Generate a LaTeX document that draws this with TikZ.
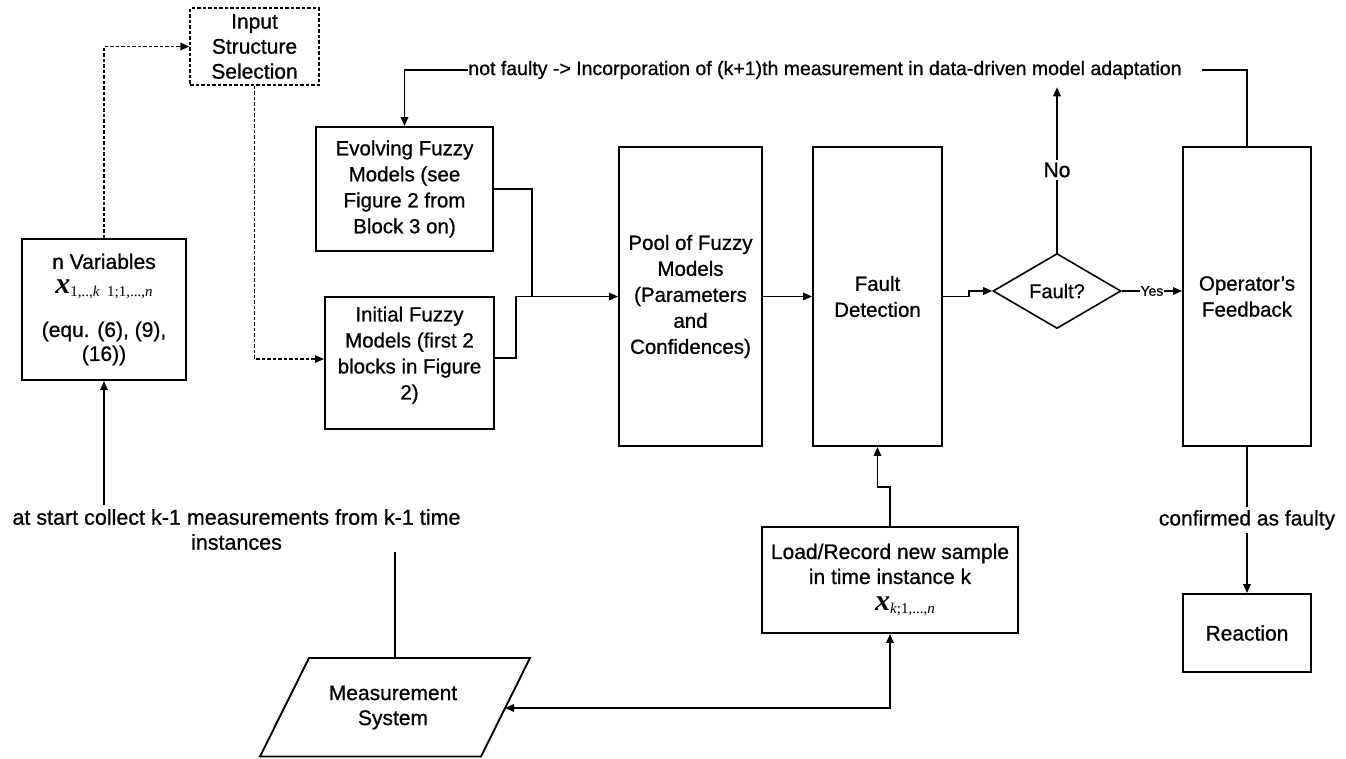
\documentclass[tikz,border=0pt]{standalone}
\usepackage{fontspec}
\setmainfont{Liberation Sans}[FakeBold=0.8]
\newfontfamily\tnr{Liberation Serif}
\usetikzlibrary{arrows.meta,shapes.geometric,calc}
\newcommand{\fsz}[2]{\fontsize{#1}{#2}\selectfont}
\newcommand{\bigx}{{\tnr\fsz{30}{30}\bfseries\itshape x}}
\newcommand{\subx}[1]{\raisebox{-3pt}{\tnr\fsz{15}{15}#1}}
\newcommand{\apos}{{\char"27}}
\begin{document}
\begin{tikzpicture}[x=1pt,y=-1pt,
  box/.style={draw,line width=1.9pt,inner sep=0pt,align=center,font=\fsz{20.5}{26}},
  conn/.style={line width=1.6pt},
  dconn/.style={line width=1.3pt,dash pattern=on 3.5pt off 2pt},
  tip/.style={-{Triangle[length=9pt,width=7.5pt]}},
  lbl/.style={inner sep=2pt,align=center}
]
\useasboundingbox[fill=white] (0,0) rectangle (1346,758);

% boxes
\node[box,line width=1.3pt,dash pattern=on 3.5pt off 2pt,minimum width=129pt,minimum height=77pt,font=\fsz{21}{25}] (inp) at (254.5,46.5) {Input\\Structure\\Selection};
\node[box,minimum width=164pt,minimum height=141pt,font=\fsz{21}{24}] (nvar) at (104,309.5)
  {n Variables\\[1pt] \bigx\subx{1,..,\textit{k}\ \ 1;1,...,\textit{n}}\\[19pt] (equ. (6), (9),\\ (16))};
\node[box,minimum width=177pt,minimum height=124pt] (evo) at (404.5,189) {Evolving Fuzzy\\Models (see\\Figure 2 from\\Block 3 on)};
\node[box,minimum width=169pt,minimum height=132pt] (ini) at (409.5,363) {Initial Fuzzy\\Models (first 2\\blocks in Figure\\2)\\[-6pt]};
\node[box,minimum width=143pt,minimum height=299pt] (pool) at (690.5,296.5) {Pool of Fuzzy\\Models\\(Parameters\\and\\Confidences)};
\node[box,minimum width=129pt,minimum height=299pt] (fd) at (877.5,296.5) {Fault\\Detection};
\node[draw,diamond,line width=1.6pt,inner sep=0pt,minimum width=128pt,minimum height=75pt,font=\fsz{20}{24}] (dia) at (1057,291) {Fault?};
\node[box,minimum width=128pt,minimum height=299pt] (op) at (1247,296.5) {Operator\apos s\\Feedback};
\node[box,minimum width=128pt,minimum height=78pt,font=\fsz{21}{25}] (rea) at (1247,633) {Reaction};
\node[box,minimum width=256pt,minimum height=106pt,font=\fsz{21}{25}] (load) at (890,580)
  {Load/Record new sample\\in time instance k\\[2pt] \hspace*{30pt}\bigx\subx{\textit{k};1,...,\textit{n}}};

% measurement system (parallelogram)
\draw[line width=1.9pt] (309,658) -- (530,658) -- (481,756.5) -- (260,756.5) -- cycle;
\node[lbl,font=\fsz{21}{25}] (ms) at (393,707.5) {Measurement\\System};
\coordinate (mst) at (395,658);
\coordinate (msr) at (505,708);

% free texts
\node[lbl,font=\fsz{21.5}{25}] (st) at (236.5,529.5) {at start collect k-1 measurements from k-1 time\\instances};
\node[font=\fsz{19.5}{24},inner xsep=0pt,inner ysep=2pt] (fb) at (825,70) {not faulty -> Incorporation of (k+1)th measurement in data-driven model adaptation};

% junctions
\coordinate (j) at (532,296.5);
\coordinate (j2) at (516,296.5);

% connectors
\draw[dconn,tip] (nvar.north) |- (inp.west);
\draw[dconn,tip] (inp.south) |- ($(ini.west)+(0,-4)$);
\draw[conn,tip] (evo.east) -| (j) -- (pool.west);
\draw[conn] ($(ini.east)+(0,-5)$) -| (j2) -- (j);
\draw[conn,tip] (pool.east) -- (fd.west);
\draw[conn,tip] (fd.east) -- ++(26,0) |- (dia.west);
\draw[conn,tip] (dia.north) -- node[lbl,fill=white,inner sep=3pt,font=\fsz{21}{24}] {No} ($(dia.north |- fb.south)+(0,6)$);
\draw[conn,tip] (dia.east) -- node[fill=white,inner sep=1pt,font=\fsz{14}{16}] {Yes} (dia.east -| op.west);
\draw[conn] (op.north) |- ($(fb.east)+(20,0)$);
\draw[conn,tip] (fb.west) -| (evo.north);
\draw[conn,tip] (op.south) -- node[fill=white,inner sep=3pt,font=\fsz{21}{24}] {confirmed as faulty} (rea.north);
\draw[conn,tip] (load.north) -- ++(0,-39) -| (fd.south);
\draw[conn,{Triangle[length=9pt,width=7.5pt]}-{Triangle[length=9pt,width=7.5pt]}] (msr) -| (load.south);
\draw[conn,tip] ($(st.north -| nvar.south)+(0,-2)$) -- (nvar.south);
\draw[conn] (st.south -| mst) -- (mst);
\end{tikzpicture}
\end{document}
